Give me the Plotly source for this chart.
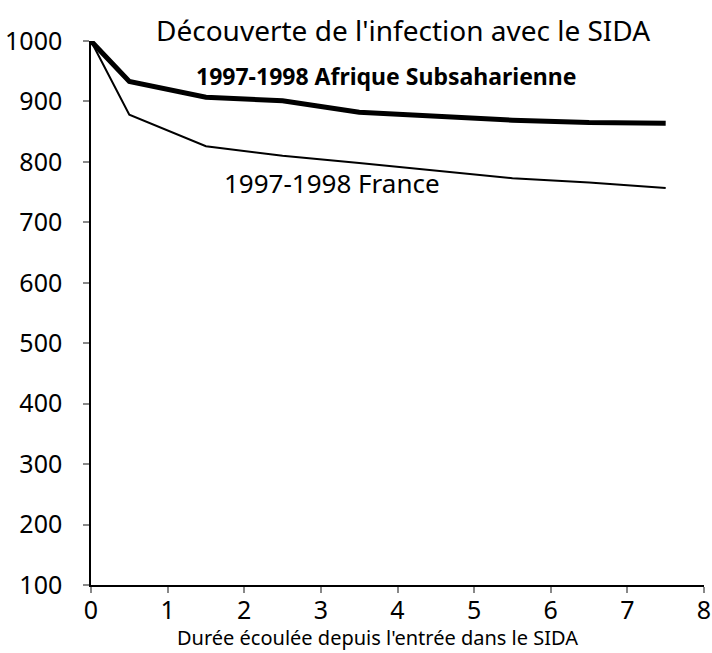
import plotly.graph_objects as go

years = [0, 0.5, 1.5, 2.5, 3.5, 4.5, 5.5, 6.5, 7.5]
afrique = [1000, 933, 907, 901, 882, 875, 869, 865, 864]
france = [1000, 878, 826, 810, 798, 785, 773, 766, 757]
x_ticks = [0, 1, 2, 3, 4, 5, 6, 7, 8]
y_ticks = [100, 200, 300, 400, 500, 600, 700, 800, 900, 1000]

FONT = "Noto Sans"

fig = go.Figure()
fig.add_trace(go.Scatter(x=years, y=afrique, mode="lines",
                         line=dict(color="black", width=5), showlegend=False))
fig.add_trace(go.Scatter(x=years, y=france, mode="lines",
                         line=dict(color="black", width=2), showlegend=False))

fig.add_annotation(x=3.855, y=942, xref="x", yref="y", text="<b>1997-1998 Afrique Subsaharienne</b>",
                   showarrow=False, font=dict(family=FONT, size=23, color="black"))
fig.add_annotation(x=3.15, y=765, xref="x", yref="y", text="1997-1998 France",
                   showarrow=False, font=dict(family=FONT, size=26, color="black"))
fig.add_annotation(x=0.509, y=1.02, xref="paper", yref="paper", yanchor="middle",
                   text="Découverte de l'infection avec le SIDA", showarrow=False,
                   font=dict(family=FONT, size=28, color="black"))
fig.add_annotation(x=0.467, y=-0.097, xref="paper", yref="paper", yanchor="middle",
                   text="Durée écoulée depuis l'entrée dans le SIDA", showarrow=False,
                   font=dict(family=FONT, size=20, color="black"))

fig.update_layout(
    width=712, height=653,
    margin=dict(l=91, r=8, t=41, b=68),
    plot_bgcolor="white", paper_bgcolor="white",
    font=dict(family=FONT, size=25, color="black"),
)
fig.update_xaxes(range=[0, 8], tickvals=x_ticks, showgrid=False, zeroline=False,
                 automargin=False, ticklabeloverflow="allow",
                 showline=True, linecolor="black", linewidth=1.5,
                 ticks="outside", ticklen=6, tickcolor="#888888", tickwidth=1.5,
                 ticklabelstandoff=-4,
                 tickfont=dict(family=FONT, size=25))
fig.update_yaxes(range=[100, 1000], tickvals=y_ticks, showgrid=False, zeroline=False,
                 automargin=False,
                 showline=True, linecolor="black", linewidth=1.5,
                 ticks="outside", ticklen=6, tickcolor="#888888", tickwidth=1.5,
                 ticklabelstandoff=16,
                 tickfont=dict(family=FONT, size=25))

fig.write_html(
    "out.html",
    config={"displayModeBar": False},
    post_script="document.body.style.margin='0';document.body.style.overflow='hidden';",
)
